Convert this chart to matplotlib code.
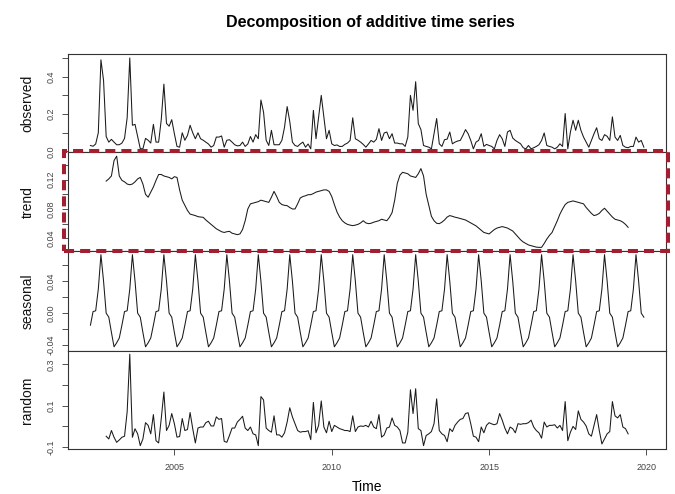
import numpy as np
import matplotlib
matplotlib.use("Agg")
import matplotlib.pyplot as plt
from matplotlib.patches import Rectangle

plt.rcParams['font.family'] = ['Liberation Sans', 'DejaVu Sans']

# monthly series, May 2002 .. Dec 2019
start_year = 2002
start_month = 5
freq = 12

observed = [
    0.032, 0.028, 0.040, 0.100, 0.490, 0.380, 0.080, 0.050, 0.065, 0.050,
    0.036, 0.036, 0.045, 0.070, 0.180, 0.500, 0.140, 0.145, 0.080, 0.015,
    0.014, 0.070, 0.060, 0.045, 0.145, 0.050, 0.050, 0.170, 0.360, 0.150,
    0.135, 0.170, 0.095, 0.027, 0.023, 0.100, 0.060, 0.086, 0.140, 0.100,
    0.068, 0.100, 0.068, 0.060, 0.050, 0.040, 0.023, 0.032, 0.077, 0.077,
    0.083, 0.023, 0.060, 0.063, 0.050, 0.036, 0.030, 0.032, 0.050, 0.027,
    0.040, 0.080, 0.050, 0.090, 0.068, 0.275, 0.210, 0.060, 0.032, 0.113,
    0.036, 0.036, 0.036, 0.060, 0.130, 0.240, 0.160, 0.050, 0.032, 0.027,
    0.040, 0.050, 0.023, 0.040, 0.014, 0.220, 0.068, 0.185, 0.300, 0.185,
    0.068, 0.113, 0.041, 0.032, 0.035, 0.027, 0.027, 0.038, 0.045, 0.059,
    0.180, 0.068, 0.060, 0.050, 0.038, 0.023, 0.040, 0.059, 0.050, 0.065,
    0.122, 0.059, 0.099, 0.104, 0.068, 0.095, 0.045, 0.045, 0.041, 0.041,
    0.027, 0.077, 0.300, 0.220, 0.373, 0.149, 0.117, 0.032, 0.027, 0.023,
    0.014, 0.095, 0.176, 0.041, 0.027, 0.063, 0.066, 0.104, 0.041, 0.050,
    0.056, 0.059, 0.086, 0.117, 0.095, 0.059, 0.014, 0.050, 0.059, 0.095,
    0.027, 0.038, 0.032, 0.027, 0.014, 0.059, 0.090, 0.068, 0.027, 0.104,
    0.113, 0.072, 0.059, 0.050, 0.041, 0.020, 0.014, 0.032, 0.014, 0.020,
    0.027, 0.036, 0.059, 0.099, 0.032, 0.027, 0.023, 0.014, 0.023, 0.041,
    0.027, 0.203, 0.014, 0.104, 0.167, 0.113, 0.167, 0.113, 0.077, 0.050,
    0.023, 0.059, 0.095, 0.127, 0.068, 0.059, 0.090, 0.081, 0.059, 0.185,
    0.077, 0.059, 0.086, 0.032, 0.023, 0.020, 0.027, 0.027, 0.077, 0.050,
    0.059, 0.023,
]

# trend and random: missing for the first and last 6 months
trend = [
    0.118, 0.121, 0.125, 0.146,
    0.152, 0.125, 0.119, 0.117, 0.114, 0.113, 0.114, 0.117, 0.121, 0.123,
    0.114, 0.100, 0.096, 0.103, 0.110, 0.119, 0.127, 0.127, 0.125, 0.124,
    0.123, 0.121, 0.124, 0.123, 0.106, 0.092, 0.085, 0.078, 0.073, 0.072,
    0.071, 0.0695, 0.069, 0.0686, 0.065, 0.062, 0.059, 0.056, 0.053, 0.051,
    0.049, 0.048, 0.049, 0.0495, 0.047, 0.046, 0.045, 0.046, 0.052, 0.064,
    0.080, 0.087, 0.088, 0.089, 0.090, 0.092, 0.091, 0.090, 0.089, 0.096,
    0.104, 0.097, 0.089, 0.086, 0.085, 0.0845, 0.082, 0.080, 0.080, 0.087,
    0.095, 0.097, 0.098, 0.0995, 0.0995, 0.101, 0.103, 0.104, 0.105, 0.106,
    0.106, 0.104, 0.097, 0.086, 0.076, 0.069, 0.064, 0.061, 0.059, 0.058,
    0.0573, 0.058, 0.059, 0.061, 0.064, 0.061, 0.060, 0.0605, 0.062, 0.063,
    0.064, 0.066, 0.065, 0.064, 0.0686, 0.075, 0.092, 0.115, 0.126, 0.130,
    0.129, 0.128, 0.125, 0.124, 0.123, 0.128, 0.135, 0.125, 0.100, 0.085,
    0.070, 0.064, 0.0605, 0.060, 0.062, 0.065, 0.069, 0.071, 0.070, 0.0688,
    0.068, 0.067, 0.066, 0.065, 0.063, 0.061, 0.059, 0.057, 0.054, 0.051,
    0.048, 0.047, 0.046, 0.049, 0.052, 0.054, 0.055, 0.056, 0.055, 0.054,
    0.052, 0.050, 0.046, 0.042, 0.038, 0.035, 0.033, 0.031, 0.030, 0.029,
    0.028, 0.0277, 0.0277, 0.033, 0.039, 0.044, 0.048, 0.056, 0.064, 0.073,
    0.080, 0.086, 0.089, 0.090, 0.091, 0.090, 0.089, 0.088, 0.087, 0.082,
    0.078, 0.074, 0.071, 0.072, 0.074, 0.078, 0.081, 0.077, 0.073, 0.069,
    0.066, 0.065, 0.064, 0.062, 0.059, 0.055,
]

# one seasonal cycle, May .. Apr
seasonal_cycle = [-0.015, 0.002, 0.003, 0.030, 0.073, 0.040,
                  0.000, -0.005, -0.024, -0.042, -0.037, -0.031]

random_part = [
    -0.0475, -0.0607, -0.0197, -0.0525,
    -0.077, -0.0656, -0.0525, -0.0475, 0.0705, 0.349, -0.0525, -0.0115, -0.036, -0.093,
    -0.061, 0.018, 0.005, -0.036, 0.057, -0.069, -0.080, 0.038, 0.166, -0.020,
    0.005, 0.062, 0.013, -0.052, -0.049, 0.038, -0.020, -0.015, 0.067, -0.011,
    -0.080, -0.008, -0.003, -0.003, 0.018, 0.025, 0.002, 0.002, 0.046, 0.034,
    0.038, -0.072, -0.077, -0.044, -0.008, -0.008, 0.021, 0.034, 0.049, -0.008,
    -0.020, -0.003, -0.036, -0.041, -0.093, 0.144, 0.128, -0.008, -0.020, -0.028,
    0.051, -0.041, -0.041, -0.052, -0.031, 0.021, 0.090, 0.046, 0.013, -0.020,
    -0.028, -0.025, -0.025, -0.021, -0.064, 0.116, -0.031, 0.005, 0.123, -0.003,
    -0.031, 0.025, -0.025, 0.005, -0.003, -0.011, -0.015, -0.020, -0.020, -0.025,
    0.051, -0.025, -0.003, 0.002, 0.000, 0.005, -0.003, 0.025, -0.003, -0.011,
    0.057, -0.052, -0.041, -0.008, -0.003, 0.041, 0.005, -0.003, -0.020, -0.080,
    -0.080, -0.028, 0.177, 0.062, 0.182, -0.011, -0.020, -0.093, -0.044, -0.036,
    -0.025, 0.013, 0.133, -0.020, -0.036, -0.044, -0.074, -0.011, -0.025, 0.005,
    0.021, 0.034, 0.038, 0.062, 0.066, 0.013, -0.0475, -0.052, -0.074, -0.003,
    -0.031, 0.005, 0.018, 0.012, 0.008, 0.013, 0.062, 0.030, -0.008, -0.036,
    -0.003, -0.011, -0.031, 0.013, 0.010, 0.013, 0.013, 0.018, 0.030, -0.003,
    -0.020, -0.031, -0.057, 0.021, -0.003, 0.005, 0.005, 0.008, -0.008, 0.005,
    -0.020, 0.120, -0.069, -0.028, 0.000, -0.015, 0.075, 0.034, 0.021, 0.002,
    -0.036, -0.0475, 0.005, 0.057, -0.020, -0.085, -0.061, -0.036, -0.025, 0.120,
    0.051, 0.041, 0.057, -0.003, -0.011, -0.036,
]

panel_names = ["observed", "trend", "seasonal", "random"]
x_ticks = [2005, 2010, 2015, 2020]

# axis ticks (all) and the ones R actually labels
y_ticks = [
    [0.0, 0.1, 0.2, 0.3, 0.4, 0.5],
    [0.04, 0.06, 0.08, 0.10, 0.12, 0.14],
    [-0.04, -0.02, 0.00, 0.02, 0.04, 0.06],
    [-0.1, 0.0, 0.1, 0.2, 0.3],
]
y_labels = [
    ["0.0", "", "0.2", "", "0.4", ""],
    ["0.04", "", "0.08", "", "0.12", ""],
    ["-0.04", "", "0.00", "", "0.04", ""],
    ["-0.1", "", "0.1", "", "0.3"],
]

n = len(observed)
t = start_year + (start_month - 1) / freq + np.arange(n) / freq
seasonal = np.resize(np.array(seasonal_cycle), n)
t_mid = t[6:n - 6]

series = [(t, np.array(observed)), (t_mid, np.array(trend)),
          (t, seasonal), (t_mid, np.array(random_part))]

W, H = 675, 494
fig = plt.figure(figsize=(W / 100, H / 100), dpi=100)

left_px, right_px = 68.3, 666.0
edges_px = [54.3, 152.5, 251.0, 350.5, 449.3]

span = t[-1] - t[0]
xlim = (t[0] - 0.04 * span, t[-1] + 0.04 * span)

line_col = "#1a1a1a"
frame_col = "#333333"

axes = []
for k in range(4):
    top, bot = edges_px[k], edges_px[k + 1]
    ax = fig.add_axes([left_px / W, 1 - bot / H, (right_px - left_px) / W, (bot - top) / H])
    xs, ys = series[k]
    ax.plot(xs, ys, color=line_col, lw=0.75)
    lo, hi = ys.min(), ys.max()
    pad = 0.04 * (hi - lo)
    ax.set_ylim(lo - pad, hi + pad)
    ax.set_xlim(*xlim)
    ax.set_yticks(y_ticks[k])
    ax.set_yticklabels(y_labels[k], rotation=90, va="center")
    ax.tick_params(axis="y", direction="out", length=4.2, width=0.6, color=frame_col,
                   labelsize=6.5, labelcolor="#444444", pad=5)
    for sp in ax.spines.values():
        sp.set_color(frame_col)
        sp.set_linewidth(0.8)
    if k < 3:
        ax.set_xticks([])
    else:
        ax.set_xticks(x_ticks)
        ax.set_xticklabels([str(v) for v in x_ticks])
        ax.tick_params(axis="x", direction="out", length=4.2, width=0.6, color=frame_col,
                       labelsize=6.5, labelcolor="#444444", pad=5.5)
    fig.text(27.5 / W, 1 - (top + bot) / 2 / H, panel_names[k], rotation=90,
             ha="center", va="center", fontsize=10, color="#111111")
    axes.append(ax)

fig.text(370 / W, 1 - 22 / H, "Decomposition of additive time series",
         ha="center", va="center", fontsize=11.5, fontweight="bold")
fig.text(367 / W, 1 - 487 / H, "Time", ha="center", va="center", fontsize=10)

# highlight box around the trend panel
x0, x1, y0, y1 = 64.0, 667.7, 150.7, 250.5
box = Rectangle((x0 / W, 1 - y1 / H), (x1 - x0) / W, (y1 - y0) / H,
                transform=fig.transFigure, fill=False, edgecolor="#a21f30",
                linewidth=2.9, linestyle=(0, (2.5, 1.5)), zorder=10, clip_on=False)
fig.add_artist(box)

fig.savefig("out.png", dpi=100)
